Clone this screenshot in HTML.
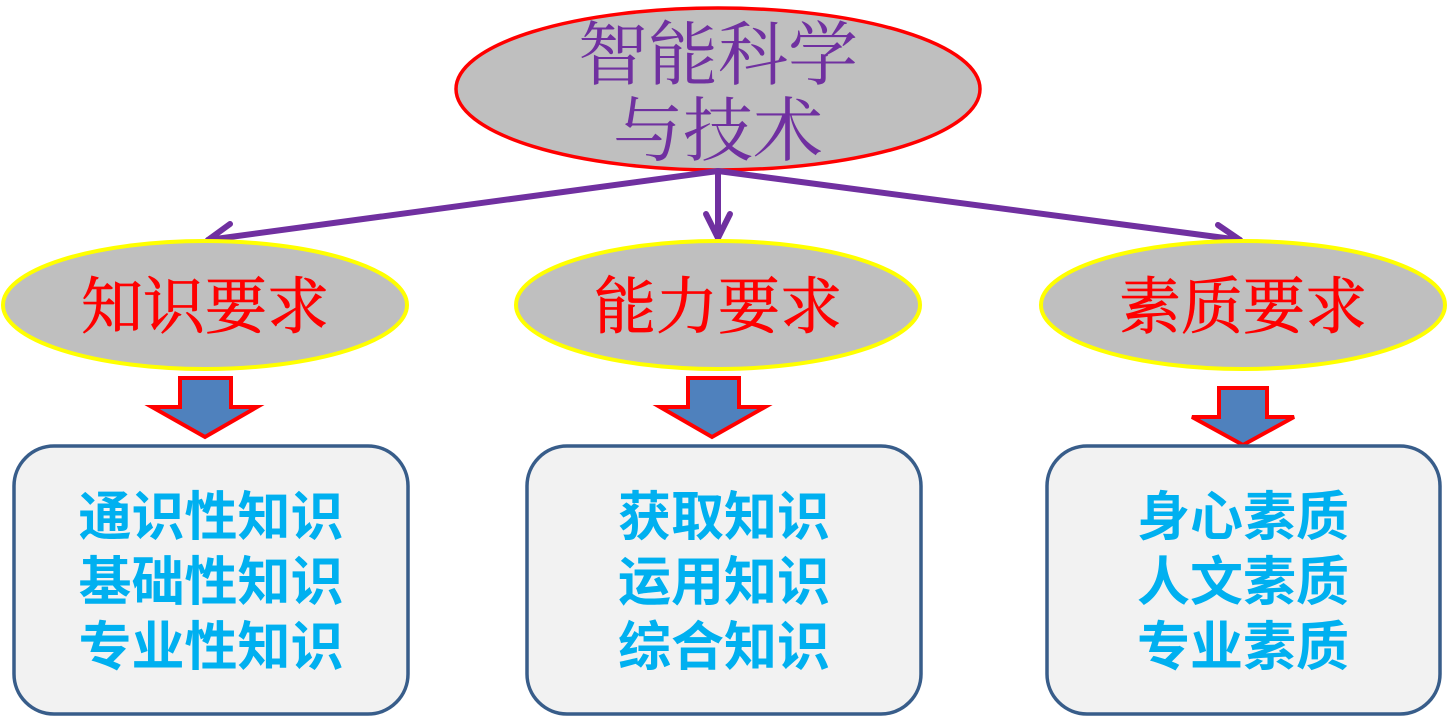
<!DOCTYPE html>
<html><head><meta charset="utf-8"><style>
html,body{margin:0;padding:0;background:#fff;}
svg{display:block;}
</style></head><body>
<svg width="1449" height="716" viewBox="0 0 1449 716" xmlns="http://www.w3.org/2000/svg">
<ellipse cx="718" cy="89" rx="262" ry="81" fill="#bfbfbf" stroke="#ff0000" stroke-width="3.5"/>
<g font-family="'Liberation Serif','Noto Serif CJK SC',serif" fill="#7030a0" font-size="70" text-anchor="middle">
<text x="718" y="79">智能科学</text>
<text x="718" y="155">与技术</text>
</g>
<g stroke="#7030a0" stroke-width="6" fill="none" stroke-linecap="round" stroke-linejoin="round">
<line x1="718" y1="171" x2="208" y2="240"/>
<polyline points="230,224 208,240 233,250"/>
<line x1="718" y1="171" x2="718" y2="238"/>
<polyline points="706,214 718,238 730,214"/>
<line x1="718" y1="171" x2="1240" y2="240"/>
<polyline points="1218,225 1240,240 1215,250"/>
</g>
<g fill="#bfbfbf" stroke="#ffff00" stroke-width="4">
<ellipse cx="205" cy="305" rx="202" ry="64"/>
<ellipse cx="718" cy="305" rx="202" ry="64"/>
<ellipse cx="1243" cy="305" rx="202" ry="64"/>
</g>
<g font-family="'Liberation Serif','Noto Serif CJK SC',serif" fill="#ff0000" font-size="62" text-anchor="middle" stroke="#ff0000" stroke-width="0.8">
<text x="205" y="328">知识要求</text>
<text x="718" y="328">能力要求</text>
<text x="1243" y="328">素质要求</text>
</g>
<g fill="#4f81bd" stroke="#ff0000" stroke-width="4" stroke-linejoin="miter">
<polygon points="180,378 231,378 231,407 257,407 205,437 152,407 180,407"/>
<polygon points="688,378 739,378 739,407 765,407 712,437 660,407 688,407"/>
<polygon points="1219,388 1267,388 1267,417 1294,417 1243,445 1192,417 1219,417"/>
</g>
<g fill="#f2f2f2" stroke="#385d8a" stroke-width="3.5">
<rect x="14" y="446" width="394" height="268" rx="40"/>
<rect x="527" y="446" width="394" height="268" rx="40"/>
<rect x="1047" y="446" width="393" height="268" rx="40"/>
</g>
<g font-family="'Liberation Sans','Noto Sans CJK SC',sans-serif" font-weight="bold" fill="#00b0f0" font-size="53" text-anchor="middle">
<text x="211" y="535">通识性知识</text>
<text x="211" y="600">基础性知识</text>
<text x="211" y="665">专业性知识</text>
<text x="724" y="535">获取知识</text>
<text x="724" y="600">运用知识</text>
<text x="724" y="665">综合知识</text>
<text x="1243" y="535">身心素质</text>
<text x="1243" y="600">人文素质</text>
<text x="1243" y="665">专业素质</text>
</g>
</svg>
</body></html>
